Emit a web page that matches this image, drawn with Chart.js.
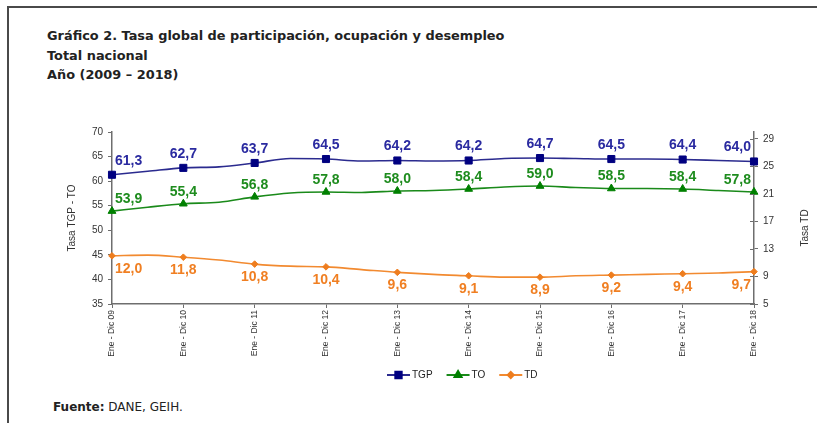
<!DOCTYPE html>
<html>
<head>
<meta charset="utf-8">
<script src="https://cdn.jsdelivr.net/npm/chart.js@4/dist/chart.umd.min.js"></script>
<style>
  html, body { margin: 0; padding: 0; background: #fff; }
  #wrap { position: relative; width: 817px; height: 423px; overflow: hidden; }
  #frame { position: absolute; left: 7px; top: 6px; width: 820px; height: 430px;
           border-top: 2px solid #4a4a4a; border-left: 2px solid #4a4a4a; }
  #title { position: absolute; left: 47px; top: 26px; font-family: "DejaVu Sans", Verdana, sans-serif;
           font-weight: bold; font-size: 12.9px; line-height: 19.5px; color: #222; }
  #source { position: absolute; left: 53px; top: 400px; font-family: "DejaVu Sans", Verdana, sans-serif;
            font-size: 12px; color: #222; }
  #cbox { position: absolute; left: 0; top: 0; width: 817px; height: 423px; }
</style>
</head>
<body>
<div id="wrap">
  <div id="frame"></div>
  <div id="title">Gráfico 2. Tasa global de participación, ocupación y desempleo<br>Total nacional<br>Año (2009 – 2018)</div>
  <div id="source"><b>Fuente:</b> DANE, GEIH.</div>
  <div id="cbox"><canvas id="c"></canvas></div>
</div>
<script>
// Year labels (categories)
const categories = ['Ene - Dic 09','Ene - Dic 10','Ene - Dic 11','Ene - Dic 12','Ene - Dic 13',
                    'Ene - Dic 14','Ene - Dic 15','Ene - Dic 16','Ene - Dic 17','Ene - Dic 18'];
// Period index for each observation (whole numbers = labelled years, halves = intermediate readings)
const periods = [0, 0.5, 1, 1.5, 2, 2.5, 3, 3.5, 4, 4.5, 5, 5.5, 6, 6.5, 7, 7.5, 8, 8.5, 9];
// Tasa global de participación
const tgp = [61.3, 62.0, 62.7, 62.9, 63.7, 64.6, 64.5, 64.1, 64.2, 64.1, 64.2, 64.6, 64.7, 64.6, 64.5, 64.5, 64.4, 64.2, 64.0];
// Tasa de ocupación
const to  = [53.9, 54.7, 55.4, 55.7, 56.8, 57.6, 57.8, 57.7, 58.0, 58.1, 58.4, 58.8, 59.0, 58.7, 58.5, 58.5, 58.4, 58.1, 57.8];
// Tasa de desempleo (right axis)
const td  = [12.0, 12.1, 11.8, 11.4, 10.8, 10.5, 10.4, 10.0, 9.6, 9.3, 9.1, 8.9, 8.9, 9.1, 9.2, 9.3, 9.4, 9.5, 9.7];
// Axis ticks
const leftTicks  = [35, 40, 45, 50, 55, 60, 65, 70];
const rightTicks = [5, 9, 13, 17, 21, 25, 29];

const pts = arr => arr.map((v, i) => ({ x: periods[i], y: v }));
const isMark = ctx => ctx.raw && Number.isInteger(ctx.raw.x);

const series = [
  { label: 'TGP', data: tgp, axis: 'y',  line: '#2b2b8f', mark: '#000080', text: '#2a2aa0', style: 'rect',     r: 5,   off: -14 },
  { label: 'TO',  data: to,  axis: 'y',  line: '#1a8a1a', mark: '#008000', text: '#1e8c1e', style: 'triangle', r: 4.5, off: -12 },
  { label: 'TD',  data: td,  axis: 'y2', line: '#f28a30', mark: '#ee7d1e', text: '#f07f22', style: 'rectRot',  r: 3.3, off: 13 }
];

const axisColor = '#6e6e6e';

const overlay = {
  id: 'overlay',
  afterDatasetsDraw(chart) {
    const ctx = chart.ctx;
    ctx.save();
    ctx.font = 'bold 14px "Liberation Sans", Arial, sans-serif';
    ctx.textBaseline = 'middle';
    chart.data.datasets.forEach((ds, di) => {
      const s = series[di];
      const meta = chart.getDatasetMeta(di);
      meta.data.forEach((el, i) => {
        const p = ds.data[i];
        if (!Number.isInteger(p.x)) return;
        let align = 'center', x = el.x;
        if (p.x === 0) { align = 'left'; x = el.x + 3; }
        else if (p.x === categories.length - 1) { align = 'right'; x = el.x - 3; }
        ctx.textAlign = align;
        ctx.fillStyle = s.text;
        ctx.fillText(p.y.toFixed(1).replace('.', ','), x, el.y + s.off);
      });
    });
    ctx.restore();
  },
  afterDraw(chart) {
    const ctx = chart.ctx;
    ctx.save();
    // right axis title, reading upward
    ctx.font = '10px "Liberation Sans", Arial, sans-serif';
    ctx.fillStyle = '#333';
    ctx.textAlign = 'center';
    ctx.textBaseline = 'middle';
    ctx.translate(805, 228);
    ctx.rotate(-Math.PI / 2);
    ctx.fillText('Tasa TD', 0, 0);
    ctx.restore();

    // right axis tick marks extend inside as well
    const ys = chart.scales.y2;
    ctx.save();
    ctx.strokeStyle = axisColor; ctx.lineWidth = 1;
    rightTicks.forEach(v => {
      const py = Math.round(ys.getPixelForValue(v)) + 0.5;
      ctx.beginPath(); ctx.moveTo(ys.left - 4, py); ctx.lineTo(ys.left, py); ctx.stroke();
    });
    ctx.restore();

    // legend
    ctx.save();
    ctx.font = '10px "Liberation Sans", Arial, sans-serif';
    ctx.textBaseline = 'middle';
    ctx.textAlign = 'left';
    let x = 387; const y = 375;
    series.forEach(s => {
      ctx.strokeStyle = s.line; ctx.lineWidth = 2;
      ctx.beginPath(); ctx.moveTo(x, y); ctx.lineTo(x + 23, y); ctx.stroke();
      ctx.fillStyle = s.mark; ctx.strokeStyle = s.mark;
      Chart.helpers.drawPoint(ctx, { pointStyle: s.style, radius: s.r * 0.9, borderWidth: 1 }, x + 11.5, y);
      ctx.fillStyle = '#222';
      ctx.fillText(s.label, x + 25, y);
      x += 25 + ctx.measureText(s.label).width + 14;
    });
    ctx.restore();
  }
};

new Chart(document.getElementById('c'), {
  type: 'line',
  data: {
    datasets: series.map(s => ({
      label: s.label,
      data: pts(s.data),
      yAxisID: s.axis,
      borderColor: s.line,
      backgroundColor: s.mark,
      borderWidth: 1.6,
      cubicInterpolationMode: 'monotone',
      pointStyle: s.style,
      pointRadius: ctx => isMark(ctx) ? s.r : 0,
      pointHoverRadius: ctx => isMark(ctx) ? s.r : 0,
      pointBackgroundColor: s.mark,
      pointBorderColor: s.mark,
      pointBorderWidth: 1,
      clip: false
    }))
  },
  options: {
    responsive: true,
    maintainAspectRatio: false,
    animation: false,
    events: [],
    layout: { padding: { left: 62, right: 3, top: 132, bottom: 64 } },
    plugins: { legend: { display: false }, tooltip: { enabled: false } },
    scales: {
      x: {
        type: 'linear',
        min: 0, max: categories.length - 1,
        afterFit: s => { s.height = 55; },
        afterBuildTicks: s => { s.ticks = categories.map((c, i) => ({ value: i })); },
        ticks: {
          autoSkip: false, minRotation: 90, maxRotation: 90, padding: 2,
          font: { family: '"Liberation Sans", Arial, sans-serif', size: 8.5 },
          color: '#333',
          callback: v => categories[v]
        },
        grid: { display: true, drawOnChartArea: false, drawTicks: true, tickLength: 4, color: axisColor, lineWidth: 1 },
        border: { display: true, color: axisColor, width: 1.5 }
      },
      y: {
        position: 'left',
        min: leftTicks[0], max: leftTicks[leftTicks.length - 1],
        afterFit: s => { s.width = 50; },
        afterBuildTicks: s => { s.ticks = leftTicks.map(v => ({ value: v })); },
        ticks: { padding: 5, color: '#333', font: { family: '"Liberation Sans", Arial, sans-serif', size: 10 } },
        grid: { display: true, drawOnChartArea: false, drawTicks: true, tickLength: 4, color: axisColor },
        border: { display: true, color: axisColor, width: 1.5 },
        title: { display: true, text: 'Tasa TGP - TO', color: '#333', padding: { top: 4, bottom: 4 },
                 font: { family: '"Liberation Sans", Arial, sans-serif', size: 10 } }
      },
      y2: {
        position: 'right',
        min: 5, max: 30,
        afterFit: s => { s.width = 60; },
        afterBuildTicks: s => { s.ticks = rightTicks.map(v => ({ value: v })); },
        ticks: { padding: 5, color: '#333', font: { family: '"Liberation Sans", Arial, sans-serif', size: 10 } },
        grid: { display: true, drawOnChartArea: false, drawTicks: true, tickLength: 4, color: axisColor },
        border: { display: true, color: axisColor, width: 1.5 }
      }
    }
  },
  plugins: [overlay]
});
</script>
</body>
</html>
